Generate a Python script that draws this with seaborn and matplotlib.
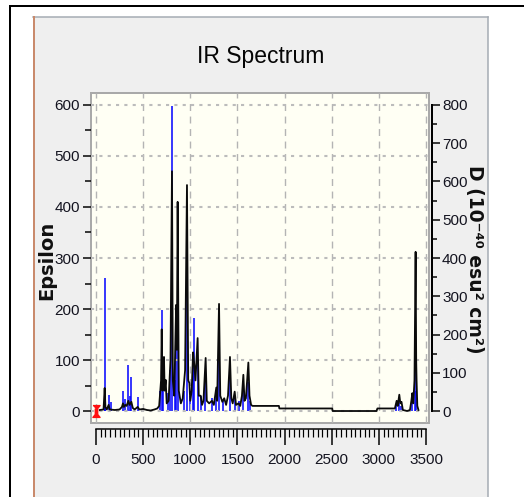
import matplotlib
matplotlib.use("Agg")
import matplotlib.pyplot as plt
from matplotlib.patches import Rectangle
from matplotlib.lines import Line2D
import seaborn as sns

# ---------------- data ----------------
# broadened spectrum (Epsilon, left axis): frequency / value pairs
curve_freq = [40, 80, 92, 100, 115, 134, 145, 200, 250, 275, 286, 296, 311, 325, 343, 355,
              375, 390, 410, 442, 460, 500, 540, 580, 620, 650, 670, 690, 697, 705, 714, 721,
              728, 739, 750, 770, 790, 806, 815, 830, 850, 858, 866, 878, 900, 920, 945, 965,
              978, 990, 1000, 1015, 1030, 1043, 1055, 1078, 1090, 1110, 1125, 1140, 1163, 1175,
              1200, 1230, 1250, 1276, 1285, 1305, 1318, 1340, 1360, 1380, 1400, 1421, 1435, 1450,
              1471, 1485, 1510, 1530, 1548, 1563, 1575, 1590, 1616, 1628, 1645, 1660, 1940, 1945,
              2505, 2510, 2975, 2985, 3170, 3189, 3200, 3217, 3228, 3240, 3255, 3300, 3330, 3345,
              3355, 3365, 3378, 3390, 3396, 3400, 3408, 3420]
curve_eps = [2, 3, 45, 8, 3, 12, 3, 2, 3, 8, 15, 8, 12, 10, 20, 12,
             18, 6, 3, 8, 3, 4, 2, 1, 3, 5, 10, 60, 160, 40, 70, 106,
             40, 61, 15, 20, 100, 470, 60, 30, 208, 120, 410, 40, 15, 25, 80, 443,
             60, 55, 20, 40, 115, 90, 60, 143, 30, 30, 12, 20, 104, 20,
             15, 20, 12, 46, 20, 210, 30, 18, 25, 12, 30, 106, 25, 15,
             38, 12, 15, 10, 30, 71, 20, 25, 95, 30, 12, 10, 10, 5,
             5, 0, 0, 5, 5, 20, 10, 32, 15, 18, 2, 0, 2, 20,
             35, 15, 60, 312, 100, 61, 10, 2]

# stick spectrum (D, right axis)
stick_freq = [92, 98, 134, 155, 286, 311, 343, 360, 375, 442, 680, 697, 715, 760, 790, 806,
              835, 850, 866, 930, 965, 1000, 1030, 1043, 1078, 1110, 1160, 1230, 1276, 1300,
              1350, 1420, 1470, 1520, 1560, 1612, 1630, 3185, 3215, 3230, 3355, 3385, 3395]
stick_d = [347, 60, 41, 23, 52, 32, 120, 40, 89, 36, 53, 264, 80, 47, 107, 797,
           80, 177, 307, 53, 333, 40, 120, 243, 133, 40, 93, 33, 47, 167,
           27, 93, 40, 27, 60, 77, 27, 16, 20, 13, 27, 141, 53]

marker_x = [0]
marker_y = [0]

x_major = list(range(0, 3501, 500))
x_minor = list(range(0, 3501, 50))
eps_major = list(range(0, 601, 100))
eps_minor = list(range(0, 601, 50))
d_major = list(range(0, 801, 100))
d_minor = list(range(0, 801, 50))

title = "IR Spectrum"
left_label = "Epsilon"
right_label = "D (10⁻⁴⁰ esu² cm²)"
bottom_label = r"Frequency (cm$^{-1}$)"

# ---------------- figure ----------------
W, H = 524, 497
plt.rcParams["font.family"] = ["Liberation Sans", "DejaVu Sans"]
fig = plt.figure(figsize=(W / 100, H / 100), dpi=100, facecolor="white")


def fx(px):
    return px / W


def fy(py):
    return 1 - py / H


px2pt = 0.72

# outer black border (top + left)
fig.add_artist(Line2D([fx(10), fx(524)], [fy(6), fy(6)], transform=fig.transFigure,
                      color="black", lw=2 * px2pt, zorder=-5))
fig.add_artist(Line2D([fx(10), fx(10)], [fy(6), fy(497)], transform=fig.transFigure,
                      color="black", lw=2 * px2pt, zorder=-5))
# gray panel
fig.add_artist(Rectangle((fx(33), fy(500)), fx(488) - fx(33), fy(17) - fy(500),
                         transform=fig.transFigure, facecolor="#efefef", edgecolor="none", zorder=-4))
fig.add_artist(Line2D([fx(33), fx(488)], [fy(17), fy(17)], transform=fig.transFigure,
                      color="#a4aab2", lw=1.5 * px2pt, zorder=-3))
fig.add_artist(Line2D([fx(488), fx(488)], [fy(17), fy(497)], transform=fig.transFigure,
                      color="#a4aab2", lw=1.5 * px2pt, zorder=-3))
fig.add_artist(Line2D([fx(34), fx(34)], [fy(17), fy(497)], transform=fig.transFigure,
                      color="#c98a6c", lw=2 * px2pt, zorder=-3))
# plot area background + frame
L, T, R, B = 91, 93, 429, 423
fig.add_artist(Rectangle((fx(L), fy(B)), fx(R) - fx(L), fy(T) - fy(B), transform=fig.transFigure,
                         facecolor="#fffff4", edgecolor="#a9a9a9", lw=2 * px2pt, zorder=-2))

ax = fig.add_axes([fx(L), fy(B), fx(R) - fx(L), fy(T) - fy(B)])
ax2 = ax.twinx()
ax.set_zorder(3)
ax2.set_zorder(2)
ax.patch.set_visible(False)
ax2.patch.set_visible(False)

# sticks
ax2.vlines(stick_freq, 0, stick_d, color="#0000ff", lw=1.1)
# broadened curve
sns.lineplot(x=curve_freq, y=curve_eps, ax=ax, color="#0a0a0a", lw=1.3, sort=False,
             estimator=None, legend=False)
# red selection marker at origin
hour = [(-0.6, 1), (0.6, 1), (0.2, 0.5), (0.2, -0.5), (0.6, -1), (-0.6, -1), (-0.2, -0.5), (-0.2, 0.5)]
ax.plot(marker_x, marker_y, linestyle="none", marker=hour, color="#ff1010", ms=8.5, zorder=6,
        clip_on=False)

ax.set_xlim(-53, 3532)
ax.set_ylim(-23.5, 623.5)
ax2.set_ylim(-23.5 * 4 / 3, 623.5 * 4 / 3)
ax.set_xlabel("")
ax.set_ylabel("")

ax.set_xticks(x_major)
ax.set_xticks(x_minor, minor=True)
ax.set_yticks(eps_major)
ax.set_yticks(eps_minor, minor=True)
ax2.set_yticks(d_major)
ax2.set_yticks(d_minor, minor=True)

ax.set_axisbelow(True)
ax.grid(True, axis="x", which="major", color="#b4b4b4", ls=(0, (5, 4)), lw=1.0)
ax.grid(True, axis="y", which="major", color="#bcbcbc", ls=(0, (1.5, 2.5)), lw=1.5)
ax.grid(False, which="minor")

for s in ("top", "right", "left"):
    ax.spines[s].set_visible(False)
ax.spines["bottom"].set_position(("outward", 6 * px2pt))
ax.spines["bottom"].set_bounds(0, 3500)
ax.spines["bottom"].set_color("black")
ax.spines["bottom"].set_linewidth(1.5 * px2pt)

for s in ("top", "left", "bottom"):
    ax2.spines[s].set_visible(False)
ax2.spines["right"].set_position(("outward", 3 * px2pt))
ax2.spines["right"].set_bounds(0, 800)
ax2.spines["right"].set_color("black")
ax2.spines["right"].set_linewidth(2 * px2pt)

lab_col = "#141420"
tick_fs = 11
ax.tick_params(axis="x", which="major", length=16 * px2pt, width=1.5 * px2pt, direction="out",
               pad=6, labelsize=tick_fs, labelcolor=lab_col, color="black")
ax.tick_params(axis="x", which="minor", length=8 * px2pt, width=1.2 * px2pt, direction="out",
               color="black")
ax.tick_params(axis="y", which="major", length=8 * px2pt, width=1.5 * px2pt, direction="out",
               pad=2, labelsize=tick_fs, labelcolor=lab_col, color="black")
ax.tick_params(axis="y", which="minor", length=6 * px2pt, width=1.5 * px2pt, direction="out",
               color="black")
ax2.tick_params(axis="y", which="major", length=8 * px2pt, width=1.5 * px2pt, direction="out",
                pad=1.5, labelsize=tick_fs, labelcolor=lab_col, color="black")
ax2.tick_params(axis="y", which="minor", length=5 * px2pt, width=1.5 * px2pt, direction="out",
                color="black")

# texts
fig.text(fx(261), fy(57), title, ha="center", va="center", fontsize=16.5, color="#050505",
         family=["Liberation Sans", "DejaVu Sans"])
fig.text(fx(47), fy(260), left_label, rotation=90, ha="center", va="center", fontsize=14,
         fontweight="bold", color="#101010", family=["DejaVu Sans"])
fig.text(fx(475), fy(259), right_label, rotation=-90, ha="center", va="center", fontsize=13.5,
         fontweight="bold", color="#101010", family=["DejaVu Sans"])
fig.text(fx(262), fy(514), bottom_label, ha="center", va="baseline", fontsize=10.5,
         fontweight="bold", color="#101010", family=["Liberation Sans", "DejaVu Sans"])

fig.savefig("out.png", dpi=100)
